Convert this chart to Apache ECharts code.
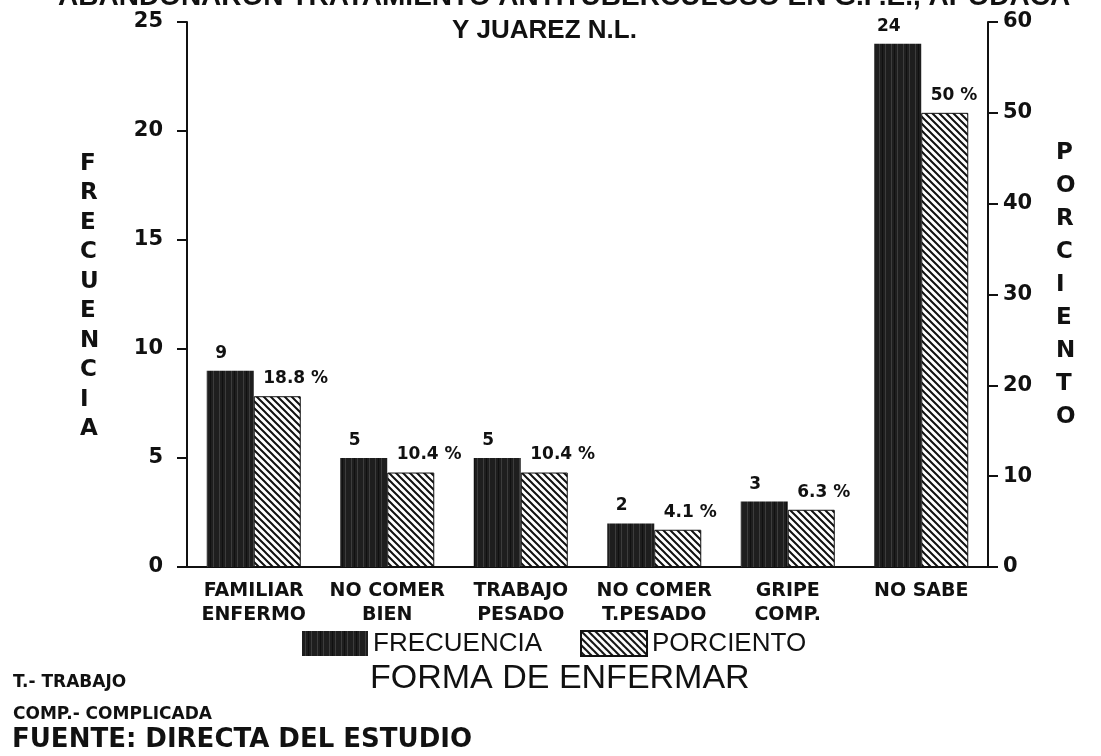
<!DOCTYPE html>
<html><head><meta charset="utf-8">
<script src="https://cdn.jsdelivr.net/npm/echarts@6/dist/echarts.min.js"></script>
<style>html,body{margin:0;padding:0;background:#fff}#c{width:1101px;height:756px}</style>
</head><body><div id="c"></div>
<script>
var categories = ['FAMILIAR\nENFERMO','NO COMER\nBIEN','TRABAJO\nPESADO','NO COMER\nT.PESADO','GRIPE\nCOMP.','NO SABE'];
var frecuencia = [9, 5, 5, 2, 3, 24];
var porciento = [18.8, 10.4, 10.4, 4.1, 6.3, 50];
var leftTicks = [0, 5, 10, 15, 20, 25];
var rightTicks = [0, 10, 20, 30, 40, 50, 60];

function darkPattern(){
  var c = document.createElement('canvas'); c.width = 12; c.height = 12;
  var g = c.getContext('2d');
  g.fillStyle = '#1e1e1e'; g.fillRect(0,0,12,12);
  g.fillStyle = '#3c3c3c'; g.fillRect(3,0,1,12); g.fillRect(9,0,1,12);
  g.fillStyle = '#101010'; g.fillRect(6,0,1,12);
  return c;
}
function hatchPattern(){
  var s = 7;
  var c = document.createElement('canvas'); c.width = s; c.height = s;
  var g = c.getContext('2d');
  g.fillStyle = '#fff'; g.fillRect(0,0,s,s);
  g.strokeStyle = '#111'; g.lineWidth = 2;
  g.beginPath();
  g.moveTo(-1,-1); g.lineTo(s+1,s+1);
  g.moveTo(-1,s-1); g.lineTo(1,s+1);
  g.moveTo(s-1,-1); g.lineTo(s+1,1);
  g.stroke();
  return c;
}
var F = 'Liberation Sans, Arial, sans-serif';
var H = 'DejaVu Sans, Liberation Sans, sans-serif';
var chart = echarts.init(document.getElementById('c'));
chart.setOption({
  backgroundColor: '#fff',
  animation: false,
  grid: {left: 187, right: 113, top: 22, bottom: 189},
  legend: {
    data: ['FRECUENCIA','PORCIENTO'], left: 297, top: 625, icon: 'rect',
    itemWidth: 66, itemHeight: 25, itemGap: 38,
    textStyle: {fontFamily: F, fontSize: 26, color: '#111'}
  },
  xAxis: {
    type: 'category', data: categories,
    axisLine: {lineStyle: {color: '#111', width: 2}},
    axisTick: {alignWithLabel: true, length: 10, lineStyle: {color: '#111', width: 2}},
    axisLabel: {fontFamily: H, fontWeight: 'bold', fontSize: 19, color: '#111', lineHeight: 24, margin: 12, interval: 0}
  },
  yAxis: [
    {type: 'value', min: 0, max: 25, interval: 5, position: 'left',
     splitLine: {show: false},
     axisLine: {show: true, lineStyle: {color: '#111', width: 2}},
     axisTick: {show: true, length: 10, lineStyle: {color: '#111', width: 2}},
     axisLabel: {fontFamily: H, fontWeight: 'bold', fontSize: 21, color: '#111', margin: 24,
       formatter: function(v){ return leftTicks.indexOf(v) >= 0 ? String(v) : ''; }}},
    {type: 'value', min: 0, max: 60, interval: 10, position: 'right',
     splitLine: {show: false},
     axisLine: {show: true, lineStyle: {color: '#111', width: 2}},
     axisTick: {show: true, length: 10, lineStyle: {color: '#111', width: 2}},
     axisLabel: {fontFamily: H, fontWeight: 'bold', fontSize: 21, color: '#111', margin: 15,
       formatter: function(v){ return rightTicks.indexOf(v) >= 0 ? String(v) : ''; }}}
  ],
  series: [
    {name: 'FRECUENCIA', type: 'bar', yAxisIndex: 0, data: frecuencia, barWidth: 47, barGap: '0%',
     itemStyle: {color: {image: darkPattern(), repeat: 'repeat'}},
     label: {show: true, position: 'top', offset: [-9, -3], distance: 6, fontFamily: H, fontWeight: 'bold', fontSize: 17, color: '#111'}},
    {name: 'PORCIENTO', type: 'bar', yAxisIndex: 1, data: porciento, barWidth: 47,
     itemStyle: {color: {image: hatchPattern(), repeat: 'repeat'}, borderColor: '#111', borderWidth: 1},
     label: {show: true, position: 'top', align: 'left', offset: [-14, -3], distance: 6, fontFamily: H, fontWeight: 'bold', fontSize: 17, color: '#111',
       formatter: function(p){ return p.value + ' %'; }}}
  ],
  graphic: [
    {type: 'text', left: 58, top: -17, style: {text: 'ABANDONARON TRATAMIENTO ANTITUBERCULOSO EN G.P.E., APODACA', font: 'bold 28px ' + F, fill: '#111'}},
    {type: 'text', left: 452, top: 18, style: {text: 'Y JUAREZ N.L.', font: 'bold 26px ' + F, fill: '#111'}},
    {type: 'text', left: 80, top: 149, style: {text: 'F\nR\nE\nC\nU\nE\nN\nC\nI\nA', font: 'bold 23px ' + H, fill: '#111', lineHeight: 29.5, align: 'center', width: 20}},
    {type: 'text', left: 1056, top: 137, style: {text: 'P\nO\nR\nC\nI\nE\nN\nT\nO', font: 'bold 23px ' + H, fill: '#111', lineHeight: 33, align: 'center', width: 20}},
    {type: 'text', left: 370, top: 662, style: {text: 'FORMA DE ENFERMAR', font: '34px ' + F, fill: '#111'}},
    {type: 'text', left: 13, top: 674, style: {text: 'T.- TRABAJO', font: 'bold 17px ' + H, fill: '#111'}},
    {type: 'text', left: 13, top: 706, style: {text: 'COMP.- COMPLICADA', font: 'bold 17px ' + H, fill: '#111'}},
    {type: 'text', left: 12, top: 727, style: {text: 'FUENTE: DIRECTA DEL ESTUDIO', font: 'bold 26px ' + H, fill: '#111'}}
  ]
});
</script></body></html>
